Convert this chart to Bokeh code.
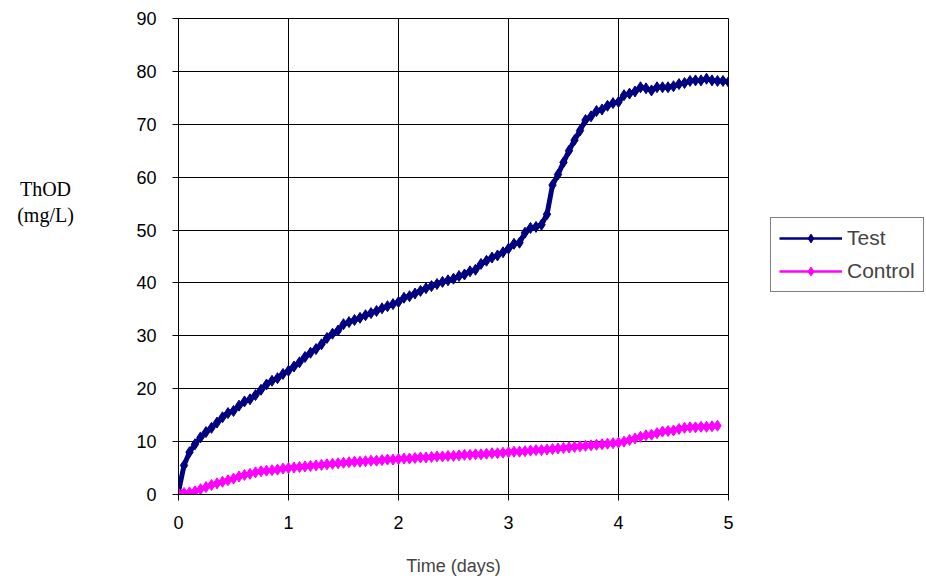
from bokeh.plotting import figure
from bokeh.models import Range1d, Legend, LegendItem, Label, FixedTicker
from bokeh.layouts import row
from bokeh.embed import file_html
from bokeh.resources import INLINE

days = [round(i * 0.05, 2) for i in range(101)]
test_thod = [0.5, 5.5, 8.0, 9.5, 10.8, 11.8, 12.6, 13.6, 14.6, 15.4,
             15.8, 16.8, 17.6, 18.0, 18.8, 19.8, 20.8, 21.5, 22.0, 22.8,
             23.4, 24.2, 25.0, 26.0, 26.8, 27.5, 28.4, 29.6, 30.4, 31.0,
             32.2, 32.6, 33.0, 33.4, 33.9, 34.3, 34.7, 35.2, 35.6, 36.0,
             36.4, 37.2, 37.5, 38.0, 38.5, 39.0, 39.4, 39.8, 40.2, 40.5,
             40.8, 41.3, 41.6, 42.2, 42.5, 43.6, 44.2, 44.8, 45.2, 45.8,
             46.5, 47.4, 47.6, 49.5, 50.4, 50.6, 51.0, 53.0, 58.5, 60.5,
             62.8, 65.0, 67.0, 68.8, 70.8, 71.5, 72.5, 72.8, 73.5, 74.0,
             74.2, 75.5, 75.8, 76.2, 77.0, 76.8, 76.4, 77.0, 77.0, 77.0,
             77.2, 77.6, 77.8, 78.2, 78.3, 78.3, 78.6, 78.3, 78.2, 78.2,
             78.0]

control_days = days[:99]
control_thod = [0.2, 0.3, 0.4, 0.6, 1.0, 1.4, 1.8, 2.1, 2.4, 2.7,
                3.0, 3.4, 3.7, 3.9, 4.2, 4.4, 4.5, 4.6, 4.7, 4.9,
                5.0, 5.1, 5.2, 5.3, 5.4, 5.5, 5.6, 5.7, 5.8, 5.9,
                6.0, 6.1, 6.2, 6.2, 6.3, 6.4, 6.4, 6.5, 6.6, 6.6,
                6.7, 6.8, 6.8, 6.9, 7.0, 7.0, 7.1, 7.2, 7.2, 7.3,
                7.3, 7.4, 7.5, 7.5, 7.6, 7.6, 7.7, 7.8, 7.8, 7.9,
                8.0, 8.1, 8.1, 8.2, 8.3, 8.4, 8.4, 8.5, 8.6, 8.7,
                8.8, 8.9, 9.0, 9.1, 9.2, 9.3, 9.4, 9.5, 9.6, 9.7,
                9.8, 10.0, 10.3, 10.6, 10.9, 11.2, 11.3, 11.6, 11.9, 12.0,
                12.1, 12.4, 12.6, 12.7, 12.7, 12.8, 12.8, 12.9, 13.0]

x_ticks = [0, 1, 2, 3, 4, 5]
y_ticks = [0, 10, 20, 30, 40, 50, 60, 70, 80, 90]
y_label_lines = ["ThOD", "(mg/L)"]
series_names = ["Test", "Control"]

NAVY = "#000080"
MAGENTA = "#FF00FF"
FONT = "Liberation Sans"

TOTAL_H = 579
LEFT_W = 120
MAIN_W = 618
LEG_W = 925 - LEFT_W - MAIN_W
FRAME_TOP, FRAME_BOTTOM = 18, 494   # page pixels of the plot frame


def blank_fig(w):
    # frames of all figures in the row are aligned to the main plot's frame;
    # y range is set so that value == distance (px) from the page bottom
    f = figure(width=w, height=TOTAL_H, output_backend="svg", toolbar_location=None,
               x_range=Range1d(0, w),
               y_range=Range1d(TOTAL_H - FRAME_BOTTOM, TOTAL_H - FRAME_TOP),
               x_axis_type=None, y_axis_type=None,
               min_border_left=0, min_border_right=0, min_border_top=0, min_border_bottom=0)
    f.outline_line_color = None
    f.xgrid.visible = False
    f.ygrid.visible = False
    return f


# left strip holding the horizontal y-axis title
lab = blank_fig(LEFT_W)
for txt, yy in zip(y_label_lines, (TOTAL_H - 188, TOTAL_H - 214)):
    lab.add_layout(Label(x=45, y=yy, text=txt, text_align="center",
                         text_baseline="middle", text_font="Liberation Serif",
                         text_font_size="20px", text_color="black"))

p = figure(width=MAIN_W, height=TOTAL_H, output_backend="svg", toolbar_location=None,
           x_range=Range1d(0, 5), y_range=Range1d(0, 90),
           min_border_left=178 - LEFT_W, min_border_right=MAIN_W - (728 - LEFT_W),
           min_border_top=FRAME_TOP, min_border_bottom=TOTAL_H - FRAME_BOTTOM)
p.background_fill_color = "white"
p.border_fill_color = "white"
p.outline_line_color = "black"
p.outline_line_width = 1

for ax in (p.xaxis[0], p.yaxis[0]):
    ax.axis_line_color = "black"
    ax.major_tick_line_color = "black"
    ax.minor_tick_line_color = None
    ax.major_tick_in = 0
    ax.major_tick_out = 6
    ax.major_label_text_font = FONT
    ax.major_label_text_font_size = "18px"
    ax.major_label_text_color = "black"

p.xaxis.ticker = FixedTicker(ticks=x_ticks)
p.yaxis.ticker = FixedTicker(ticks=y_ticks)
p.xaxis.major_label_standoff = 15
p.yaxis.major_label_standoff = 16
p.xaxis.axis_label = "Time (days)"
p.xaxis.axis_label_text_font = FONT
p.xaxis.axis_label_text_font_size = "18px"
p.xaxis.axis_label_text_font_style = "normal"
p.xaxis.axis_label_standoff = 24

p.xgrid.grid_line_color = "black"
p.ygrid.grid_line_color = "black"
p.xgrid.grid_line_width = 1
p.ygrid.grid_line_width = 1

p.line(days, test_thod, line_color=NAVY, line_width=5)
p.scatter(days, test_thod, marker="diamond", size=11, fill_color=NAVY, line_color=NAVY)
p.line(control_days, control_thod, line_color=MAGENTA, line_width=5)
p.scatter(control_days, control_thod, marker="diamond", size=11,
          fill_color=MAGENTA, line_color=MAGENTA)

# legend strip on the right (series drawn out of view; only their legend swatches show)
leg = blank_fig(LEG_W)
leg.x_range = Range1d(100, 100 + LEG_W)
lt_l = leg.line(days, test_thod, line_color=NAVY, line_width=2.5)
lt_m = leg.scatter(days, test_thod, marker="diamond", size=7, fill_color=NAVY, line_color=NAVY)
lc_l = leg.line(control_days, control_thod, line_color=MAGENTA, line_width=2.5)
lc_m = leg.scatter(control_days, control_thod, marker="diamond", size=7,
                   fill_color=MAGENTA, line_color=MAGENTA)

legend = Legend(items=[LegendItem(label=series_names[0], renderers=[lt_l, lt_m]),
                       LegendItem(label=series_names[1], renderers=[lc_l, lc_m])],
                location=(770 - (LEFT_W + MAIN_W), FRAME_BOTTOM - 292))
legend.glyph_width = 63
legend.glyph_height = 22
legend.label_height = 22
legend.spacing = 9
legend.padding = 8
legend.margin = 0
legend.label_standoff = 5
legend.label_text_font = FONT
legend.label_text_font_size = "21px"
legend.border_line_color = "black"
legend.border_line_width = 1
legend.background_fill_color = "white"
legend.background_fill_alpha = 1
leg.add_layout(legend)

layout = row(lab, p, leg)
open("out.html", "w").write(file_html(layout, INLINE))
